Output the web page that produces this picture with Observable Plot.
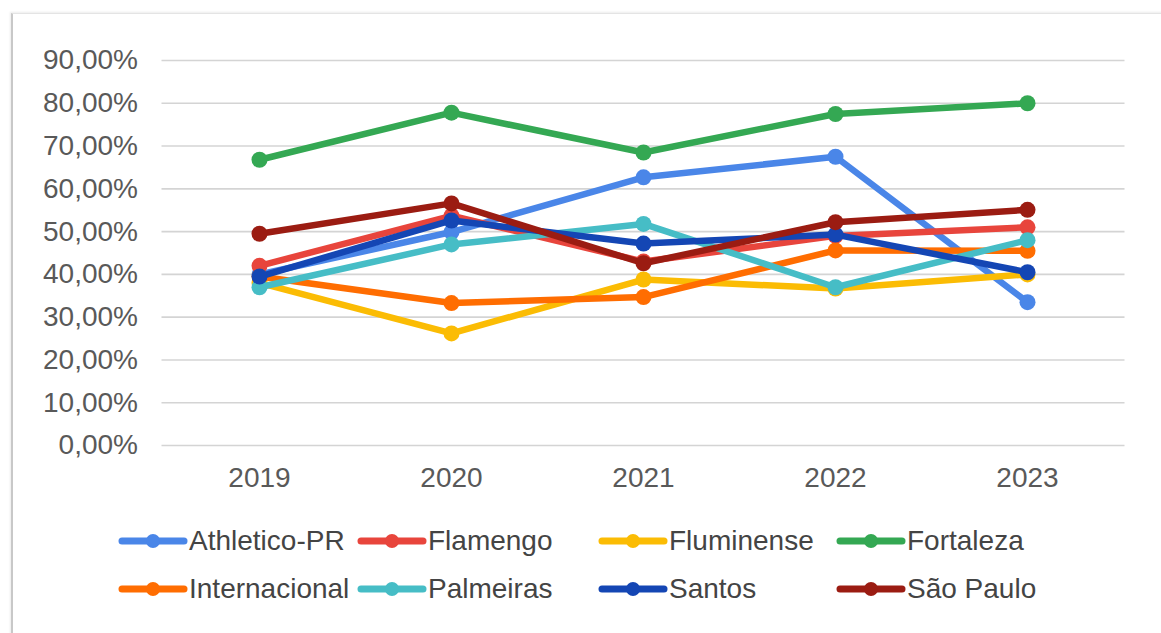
<!DOCTYPE html>
<html>
<head>
<meta charset="utf-8">
<script src="https://cdn.jsdelivr.net/npm/d3@7"></script>
<script src="https://cdn.jsdelivr.net/npm/@observablehq/plot@0.6"></script>
<style>
  html, body { margin: 0; padding: 0; background: #fff; }
  body { width: 1161px; height: 633px; overflow: hidden; position: relative; font-family: "Liberation Sans", Arial, sans-serif; }
  #frame { position: absolute; left: 11px; top: 13px; width: 1160px; height: 630px;
           border-left: 2px solid #c8c8c8; border-top: 1px solid #e4e4e4;
           box-shadow: -1px -1px 2px rgba(0,0,0,0.08); }
  #chart { position: absolute; left: 0; top: 0; }
  #legend { position: absolute; left: 0; top: 0; width: 1161px; height: 633px; pointer-events: none; }
  .item { position: absolute; display: flex; align-items: center; font-size: 28px; color: #444; height: 40px; white-space: nowrap; }
  .item svg { margin-right: 1px; }
</style>
</head>
<body>
<div id="frame"></div>
<div id="chart"></div>
<div id="legend"></div>
<script>
const years = ["2019", "2020", "2021", "2022", "2023"];
const teams = ["Athletico-PR", "Flamengo", "Fluminense", "Fortaleza", "Internacional", "Palmeiras", "Santos", "São Paulo"];
const colors = ["#4a86e8", "#e8453c", "#fbbc04", "#34a853", "#ff6d01", "#46bdc6", "#1446b4", "#9b1c12"];
const athletico = [0.400, 0.499, 0.627, 0.675, 0.335];
const flamengo = [0.420, 0.537, 0.430, 0.490, 0.510];
const fluminense = [0.380, 0.262, 0.388, 0.367, 0.400];
const fortaleza = [0.668, 0.778, 0.685, 0.775, 0.800];
const internacional = [0.395, 0.333, 0.347, 0.456, 0.455];
const palmeiras = [0.370, 0.470, 0.518, 0.370, 0.480];
const santos = [0.395, 0.526, 0.472, 0.493, 0.405];
const saoPaulo = [0.495, 0.566, 0.426, 0.522, 0.551];
const yTicks = [0, 0.1, 0.2, 0.3, 0.4, 0.5, 0.6, 0.7, 0.8, 0.9];

const seriesValues = [athletico, flamengo, fluminense, fortaleza, internacional, palmeiras, santos, saoPaulo];
const data = [];
teams.forEach((t, i) => years.forEach((y, j) => data.push({team: t, year: y, value: seriesValues[i][j]})));

const fmt = v => (v * 100).toFixed(2).replace(".", ",") + "%";

const marks = [Plot.ruleY(yTicks, { stroke: "#d4d4d4", strokeWidth: 1.6 })];
teams.forEach(t => {
  const d = data.filter(e => e.team === t);
  marks.push(Plot.line(d, { x: "year", y: "value", stroke: "team", strokeWidth: 6.5, strokeLinejoin: "round", strokeLinecap: "round" }));
  marks.push(Plot.dot(d, { x: "year", y: "value", fill: "team", r: 8 }));
});

const chart = Plot.plot({
  width: 1161,
  height: 500,
  marginTop: 60,
  marginBottom: 55,
  marginLeft: 161.5,
  marginRight: 36.5,
  style: { fontFamily: "Liberation Sans, Arial, sans-serif", fontSize: "28px", color: "#595959", background: "transparent" },
  x: { type: "point", domain: years, padding: 0.5, label: null, tickSize: 0, tickPadding: 22 },
  y: { domain: [0, 0.9], ticks: yTicks, tickFormat: fmt, label: null, tickSize: 0, tickPadding: 24 },
  color: { domain: teams, range: colors },
  marks
});
document.getElementById("chart").appendChild(chart);

// Legend
const legend = document.getElementById("legend");
const colX = [118, 357, 598, 836];
const rowY = [541, 589];
teams.forEach((t, i) => {
  const div = document.createElement("div");
  div.className = "item";
  div.style.left = colX[i % 4] + "px";
  div.style.top = (rowY[Math.floor(i / 4)] - 20) + "px";
  const c = colors[i];
  div.innerHTML = `<svg width="70" height="20"><line x1="4" y1="10" x2="66" y2="10" stroke="${c}" stroke-width="7" stroke-linecap="round"/><circle cx="35" cy="10" r="7" fill="${c}"/></svg><span>${t}</span>`;
  legend.appendChild(div);
});
</script>
</body>
</html>
